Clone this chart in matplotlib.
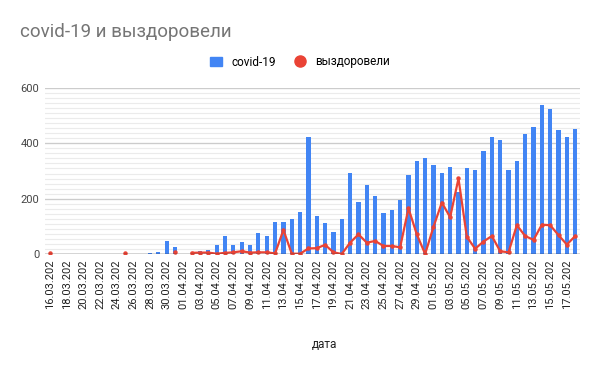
import numpy as np
import pandas as pd
import matplotlib
matplotlib.use("Agg")
import matplotlib.pyplot as plt
from matplotlib.patches import Patch
from matplotlib.lines import Line2D

plt.rcParams['font.family'] = ['Roboto', 'DejaVu Sans']

# dates 16.03.2020 - 18.05.2020, labels are cut off in the original
dates = pd.date_range("2020-03-16", "2020-05-18", freq="D")
date_labels = [d.strftime("%d.%m.%Y")[:9] for d in dates]

nan = np.nan
covid = [nan, nan, nan, 1, 1, 1, nan, nan, nan, nan, nan, nan, 3, 7, 46, 24,
         nan, nan, 12, 16, 31, 64, 31, 42, 31, 77, 64, 117, 117, 126, 151, 423,
         136, 111, 81, 126, 291, 187, 249, 211, 147, 158, 194, 287, 336, 346,
         322, 292, 313, 225, 310, 302, 371, 423, 412, 303, 336, 435, 459, 539,
         524, 448, 423, 452]
recovered = [2, nan, nan, nan, nan, nan, nan, nan, nan, 5, nan, nan, nan, nan, nan, 6,
             nan, 4, 5, 5, 1, 4, 6, 10, 5, 6, 6, 2, 87, 1, 1, 20,
             21, 33, 6, 0, 41, 71, 41, 47, 29, 29, 24, 165, 71, 0,
             98, 186, 133, 273, 62, 19, 45, 65, 10, 6, 104, 65, 51, 106,
             104, 68, 34, 65]

blue = "#4285F4"
red = "#EA4335"

fig = plt.figure(figsize=(6, 3.71), dpi=100)
ax = fig.add_axes([0.075, 0.3154, 0.892, 0.4474])

x = np.arange(len(dates))
ax.bar(x, covid, width=0.5, color=blue, zorder=2)
ax.plot(x, recovered, color=red, lw=1.6, marker='o', ms=2.2, zorder=3)

ax.set_xlim(-0.6, len(dates) - 0.4)
ax.set_ylim(0, 600)

# grid: majors every 200, 10 minor lines between
for v in np.linspace(0, 600, 34):
    ax.axhline(v, color="#ebebeb", lw=0.8, zorder=0)
for v in [200, 400, 600]:
    ax.axhline(v, color="#cccccc", lw=0.9, zorder=1)
ax.axhline(0, color="#333333", lw=1.0, zorder=4)

ax.set_yticks([0, 200, 400, 600])
ax.set_yticklabels(["0", "200", "400", "600"], fontsize=8, color="#444444")
ax.set_xticks(x[::2])
ax.set_xticklabels(date_labels[::2], rotation=90, fontsize=8, color="#222222")
ax.tick_params(length=0, pad=4)
for s in ax.spines.values():
    s.set_visible(False)

fig.text(0.033, 1 - 32 / 371, "covid-19 и выздоровели", fontsize=13.5,
         color="#757575", va="center", ha="left")

handles = [Patch(color=blue),
           Line2D([], [], color=red, marker='o', linestyle='none', lw=0, ms=8)]
fig.legend(handles, ["covid-19", "выздоровели"], loc="center",
           bbox_to_anchor=(0.5, 1 - 62 / 371), ncol=2, frameon=False,
           fontsize=8.5, handlelength=1.0, handletextpad=0.8, columnspacing=1.5)

fig.text(0.541, 1 - 345 / 371, "дата", fontsize=8.5, color="#222222",
         ha="center", va="center")

fig.savefig("out.png", dpi=100)
